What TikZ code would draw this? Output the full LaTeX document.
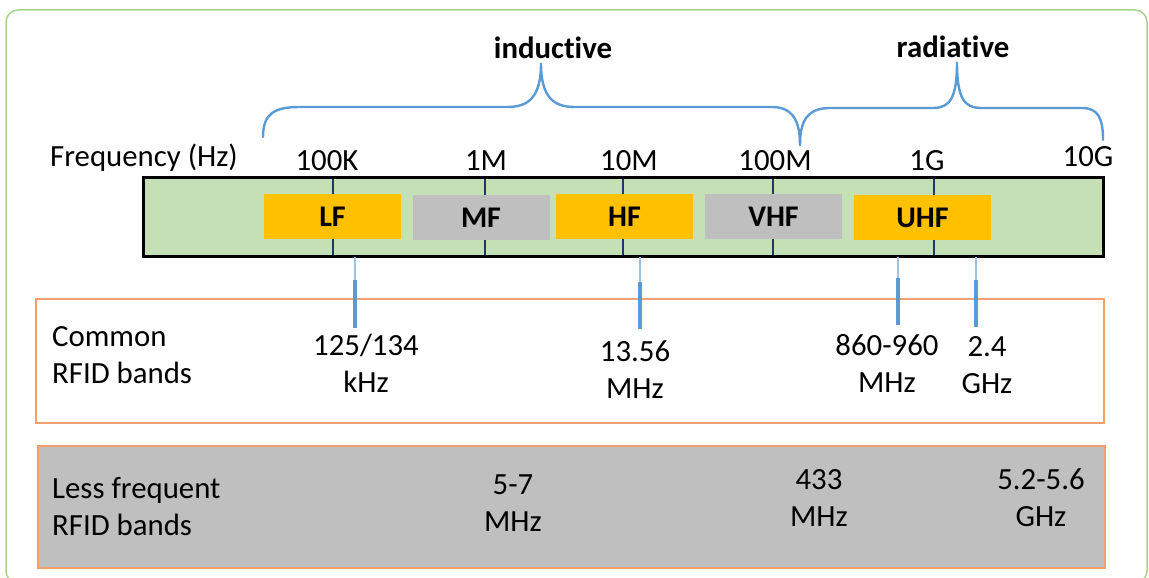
\documentclass[tikz,border=0pt]{standalone}
\usepackage{fontspec}
\setmainfont{Carlito}[Ligatures=NoCommon]
\definecolor{framegreen}{RGB}{169,209,142}
\definecolor{barfill}{RGB}{197,224,180}
\definecolor{bandorange}{RGB}{255,192,0}
\definecolor{bandgray}{RGB}{191,191,191}
\definecolor{ticknavy}{RGB}{31,56,100}
\definecolor{braceblue}{RGB}{91,155,213}
\definecolor{lightblue}{RGB}{157,195,230}
\definecolor{boxorange}{RGB}{244,160,110}
\tikzset{
  txt/.style={font=\fontsize{30.8}{36.5}\selectfont, inner sep=0pt, align=center},
  boldtxt/.style={txt, font=\fontsize{30.8}{36.5}\selectfont\bfseries},
  bandbox/.style={minimum width=137pt, minimum height=45pt, inner sep=0pt,
    font=\fontsize{30}{35}\selectfont\bfseries},
  tick/.style={draw=ticknavy, line width=2pt},
  brace/.style={draw=braceblue, line width=2.4pt, line cap=round},
  thinmark/.style={draw=lightblue, line width=1.3pt},
  thickmark/.style={draw=braceblue, line width=4pt},
}
\begin{document}
\begin{tikzpicture}[x=1pt, y=-1pt]
\useasboundingbox (0,0) rectangle (1149,578);
% outer frame
\draw[framegreen, line width=1.5pt, rounded corners=12pt] (6,10) rectangle (1147,583);

% frequency bar
\fill[barfill] (143,177) rectangle (1103,256);
\foreach \x in {333,485,623,773,934}
  \draw[tick] (\x,177) -- (\x,256);
\node[bandbox, fill=bandorange] (lf)  at (332.5,216.5) {LF};
\node[bandbox, fill=bandgray]   (mf)  at (481,217.5)   {MF};
\node[bandbox, fill=bandorange] (hf)  at (624.5,216.5) {HF};
\node[bandbox, fill=bandgray]   (vhf) at (773.5,216.5) {VHF};
\node[bandbox, fill=bandorange] (uhf) at (922.5,217.5) {UHF};
\draw[black, line width=3pt] (143,177) rectangle (1103,256);

% axis labels
\node[txt, anchor=base] (freq) at (144,166) {Frequency (Hz)};
\node[txt, anchor=base] (f100k) at (327,170) {100K};
\node[txt, anchor=base] (f1m)   at (486,170) {1M};
\node[txt, anchor=base] (f10m)  at (629,170) {10M};
\node[txt, anchor=base] (f100m) at (775,170) {100M};
\node[txt, anchor=base] (f1g)   at (927,170) {1G};
\node[txt, anchor=base] (f10g)  at (1088,166) {10G};

% braces
\draw[brace] (263,137) .. controls (263,113) and (275,107) .. (300,107) -- (507,107)
  .. controls (528,107) and (541,98) .. (541,63)
  .. controls (541,98) and (554,107) .. (575,107) -- (772,107)
  .. controls (792,107) and (800,120) .. (800,145);
\draw[brace] (800,145) .. controls (800,120) and (808,108) .. (830,108) -- (933,108)
  .. controls (950,108) and (957,98) .. (957,62)
  .. controls (957,98) and (964,108) .. (981,108) -- (1082,108)
  .. controls (1098,108) and (1103,118) .. (1103,140);
\node[boldtxt, anchor=base] (ind) at (553,59) {inductive};
\node[boldtxt, anchor=base] (rad) at (953,58) {radiative};

% band boxes below
\draw[boxorange, line width=1.5pt] (36,299) rectangle (1104,423);
\draw[boxorange, fill=bandgray, line width=2pt] (38,446) rectangle (1105,568);

% markers
\foreach \x/\t/\e in {355/280/328, 640/282/329, 898/278/325, 976/280/327}{
  \draw[thinmark] (\x,257) -- (\x,\t);
  \draw[thickmark] (\x,\t) -- (\x,\e);
}

% common bands (anchored at the baseline of the last line)
\node[txt, align=left, anchor=base west] (common) at (52,383) {Common\\RFID bands};
\node[txt, anchor=base] (c125)  at (366,392) {125/134\\kHz};
\node[txt, anchor=base] (c1356) at (635,398) {13.56\\MHz};
\node[txt, anchor=base] (c860)  at (887,392) {860-960\\MHz};
\node[txt, anchor=base] (c24)   at (987,393) {2.4\\GHz};

% less frequent bands
\node[txt, align=left, anchor=base west] (less) at (52,535) {Less frequent\\RFID bands};
\node[txt, anchor=base] (l57)  at (513,531) {5-7\\MHz};
\node[txt, anchor=base] (l433) at (819,526) {433\\MHz};
\node[txt, anchor=base] (l52)  at (1041,526) {5.2-5.6\\GHz};
\end{tikzpicture}
\end{document}
